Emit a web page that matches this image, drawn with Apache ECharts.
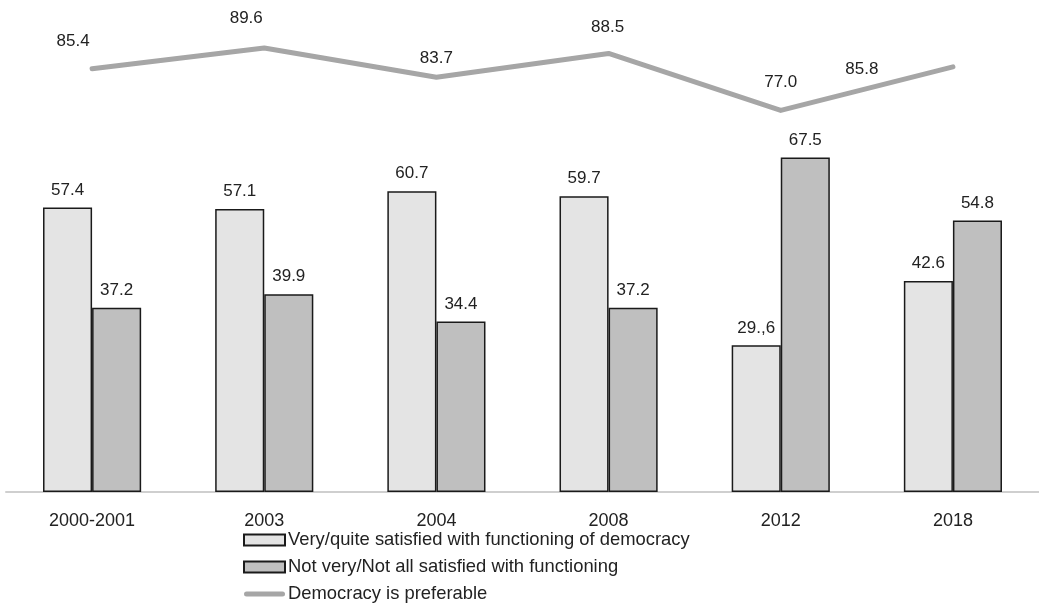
<!DOCTYPE html>
<html><head><meta charset="utf-8">
<script src="https://cdn.jsdelivr.net/npm/echarts@6/dist/echarts.min.js"></script>
<style>html,body{margin:0;padding:0;background:#fff}#c{width:1039px;height:604px}</style>
</head><body><div id="c"></div>
<script>
const categories = ['2000-2001','2003','2004','2008','2012','2018'];
const satisfied = [57.4, 57.1, 60.7, 59.7, 29.6, 42.6];
const satisfiedLabels = ['57.4','57.1','60.7','59.7','29.,6','42.6'];
const notSatisfied = [37.2, 39.9, 34.4, 37.2, 67.5, 54.8];
const preferable = [85.4, 89.6, 83.7, 88.5, 77.0, 85.8];
const lineLabelOffsets = [[-19,-8],[-18,-10],[0,1],[-1,-7],[0,-9],[-91,22]];

const font = 'Liberation Sans, Arial, sans-serif';
const fs = 17;
const chart = echarts.init(document.getElementById('c'));
chart.setOption({
  animation: false,
  textStyle: {fontFamily: font},
  grid: {left: 6, right: 0, top: 46, bottom: 112},
  xAxis: {
    type: 'category', data: categories,
    axisLine: {lineStyle: {color: '#cfcfcf', width: 2}},
    axisTick: {show: false},
    axisLabel: {color: '#222', fontSize: 18, margin: 20, fontFamily: font}
  },
  yAxis: {type: 'value', min: 0, max: 90, show: false, splitLine: {show: false}},
  legend: {
    orient: 'vertical', left: 243, top: 530, height: 90, padding: 0,
    itemWidth: 41, itemHeight: 11, itemGap: 7,
    textStyle: {color: '#222', fontSize: 18.4, lineHeight: 20, fontFamily: font, padding: [0,0,0,-2]},
    data: [
      {name: 'Very/quite satisfied with functioning of democracy', icon: 'rect'},
      {name: 'Not very/Not all satisfied with functioning', icon: 'rect'},
      {name: 'Democracy is preferable', icon: 'path://M2.5,0 L38.5,0 A2.5,2.5 0 0 1 38.5,5 L2.5,5 A2.5,2.5 0 0 1 2.5,0 Z',
       itemStyle: {color: '#a6a6a6', borderWidth: 0}}
    ]
  },
  series: [
    {
      name: 'Very/quite satisfied with functioning of democracy', type: 'bar',
      data: satisfied, barWidth: '28.5%', barGap: '0%',
      itemStyle: {color: '#e4e4e4', borderColor: '#1a1a1a', borderWidth: 1.5},
      label: {show: true, position: 'top', distance: 9, color: '#222', fontSize: fs, fontFamily: font,
        formatter: p => satisfiedLabels[p.dataIndex]}
    },
    {
      name: 'Not very/Not all satisfied with functioning', type: 'bar',
      data: notSatisfied, barWidth: '28.5%',
      itemStyle: {color: '#bfbfbf', borderColor: '#1a1a1a', borderWidth: 1.5},
      label: {show: true, position: 'top', distance: 9, color: '#222', fontSize: fs, fontFamily: font,
        formatter: p => p.value.toFixed(1)}
    },
    {
      name: 'Democracy is preferable', type: 'line',
      data: preferable.map((v, i) => ({value: v, label: {offset: lineLabelOffsets[i]}})),
      symbol: 'circle', symbolSize: 2, showSymbol: true,
      lineStyle: {color: '#a6a6a6', width: 5, cap: 'round', join: 'round'},
      itemStyle: {color: '#a6a6a6'},
      label: {show: true, position: 'top', distance: 10, color: '#222', fontSize: fs, fontFamily: font,
        formatter: p => p.value.toFixed(1)}
    }
  ]
});
</script></body></html>
